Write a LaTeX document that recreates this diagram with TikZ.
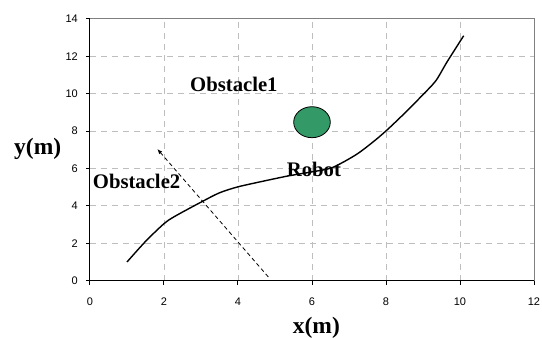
\documentclass[tikz,border=0pt]{standalone}
\usepackage{fontspec}
\setmainfont{Liberation Serif}
\newfontfamily\arialfont{Liberation Sans}
\usetikzlibrary{arrows.meta,shapes.geometric}
\definecolor{obsgreen}{RGB}{51,153,102}
\definecolor{gridgray}{RGB}{190,190,190}
\definecolor{framegray}{RGB}{128,128,128}
\tikzset{
  gridline/.style={draw=gridgray, line width=0.9pt, dash pattern=on 6pt off 5pt},
  frameline/.style={draw=framegray, line width=0.8pt},
  axisline/.style={draw=black, line width=1pt},
  ticklabel/.style={font=\arialfont\fontsize{11}{13}\selectfont, inner sep=0pt},
  maplabel/.style={font=\bfseries\fontsize{20.7}{24}\selectfont, inner sep=0pt, anchor=base west},
  axistitle/.style={font=\bfseries\fontsize{23.5}{27}\selectfont, inner sep=0pt, anchor=base west},
  pathline/.style={draw=black, line width=1.4pt, line join=round},
  motion/.style={draw=black, line width=0.8pt, dash pattern=on 4pt off 3pt, -{Latex[length=5pt,width=4pt]}}
}
\begin{document}
\begin{tikzpicture}[x=37pt, y=18.7pt]
\useasboundingbox (-90pt,-57.3pt) rectangle (452pt,280.7pt);
% grid
\foreach \gx in {2,4,...,10} \draw[gridline] (\gx,0) -- (\gx,14);
\foreach \gy in {2,4,...,12} \draw[gridline] (0,\gy) -- (12,\gy);
% frame
\draw[frameline] (0,14) -- (12,14) -- (12,0);
% axes
\draw[axisline] (0,14) -- (0,0) -- (12,0);
\foreach \gy in {0,2,...,14} {
  \draw[axisline] (-4pt,\gy) -- (0,\gy);
  \node[ticklabel, anchor=east] (yl\gy) at ([xshift=-12pt]0,\gy) {\gy};
}
\foreach \gx in {0,2,...,12} {
  \draw[axisline] (\gx,0) -- ([yshift=-4pt]\gx,0);
  \node[ticklabel] (xl\gx) at ([yshift=-21pt]\gx,0) {\gx};
}
% axis titles
\node[axistitle] (xt) at (202.7pt,-52.6pt) {x(m)};
\node[axistitle] (yt) at (-76pt,125.7pt) {y(m)};
% obstacle
\node[draw=black, line width=0.8pt, fill=obsgreen, ellipse, minimum width=36.6pt, minimum height=31pt, inner sep=0pt] (obs) at (222pt,158.5pt) {};
% robot path
\draw[pathline] plot[smooth, tension=0.45] coordinates {
 (1,1) (1.5,2.1) (2,3.05) (2.3,3.45) (3,4.2) (3.5,4.7) (4,5.02) (4.7,5.33) (5.35,5.6) (6,5.82) (6.55,6.05) (7.2,6.75) (7.7,7.5) (8.05,8.1) (8.5,8.95) (9,9.95) (9.35,10.7) (9.65,11.7) (10.1,13.1)};
% dashed motion arrow
\coordinate (ms) at (4.82,0.2);
\coordinate (me) at (1.82,7.04);
\draw[motion] (ms) -- (me);
% labels
\node[maplabel] (o1) at (100pt,189pt) {Obstacle1};
\node[maplabel] (o2) at (2.7pt,92.4pt) {Obstacle2};
\node[maplabel] (rb) at (196.7pt,104pt) {Robot};
\end{tikzpicture}
\end{document}
